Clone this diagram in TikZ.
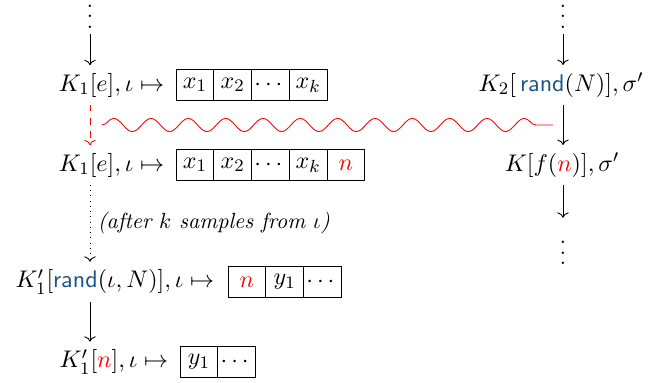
\documentclass[tikz,border=0pt]{standalone}
\usepackage{amsmath}
\usepackage{amssymb}
\usepackage{tikz}
\usetikzlibrary{arrows.meta,calc,positioning,decorations.pathmorphing}

\definecolor{randblue}{RGB}{25,85,135}
\newcommand{\rnd}{\textcolor{randblue}{\mathsf{rand}}}
\newcommand{\vdts}{\vbox{\baselineskip4.8pt\lineskiplimit0pt\hbox{.}\hbox{.}\hbox{.}}}

\tikzset{
    every node/.style={font=\fontsize{11.2}{13.5}\selectfont},
    cell/.style={draw, thin, minimum width=17.2pt, minimum height=14.5pt, inner sep=0pt, outer sep=0pt},
    gap/.style={inner sep=0.5pt},
}

\begin{document}
\begin{tikzpicture}[x=0.016cm, y=-0.016cm]

    % Frame
    \useasboundingbox (0,0) rectangle (652,383);

    % ---------- LEFT THREAD ----------

    % First state
    \node[gap] (dotsL) at (90,16.5) {\vdts};
    \node[anchor=east] (k1a) at (172,85) {$K_1[e], \iota \mapsto$};
    \node[cell, anchor=west] (a1) at (176,85) {$x_1$};
    \node[cell, right=0pt of a1] (a2) {$x_2$};
    \node[cell, right=0pt of a2] (a3) {$\cdots$};
    \node[cell, right=0pt of a3] (a4) {$x_k$};
    \draw[->] (dotsL.south) ++(0,-2pt) -- (dotsL.south |- k1a.north);

    % Sample appended
    \node[anchor=east] (k1b) at (172,165) {$K_1[e], \iota \mapsto$};
    \node[cell, anchor=west] (b1) at (176,165) {$x_1$};
    \node[cell, right=0pt of b1] (b2) {$x_2$};
    \node[cell, right=0pt of b2] (b3) {$\cdots$};
    \node[cell, right=0pt of b3] (b4) {$x_k$};
    \node[cell, right=0pt of b4, text=red] (b5) {$n$};
    \draw[->, red, dashed] (k1a.south -| dotsL) -- (k1b.north -| dotsL);

    % Later: the stored sample is read
    \node[anchor=east] (k1c) at (222,282) {$K_1'[\rnd(\iota, N)], \iota \mapsto$};
    \node[cell, anchor=west, text=red] (c1) at (228,282) {$n$};
    \node[cell, right=0pt of c1] (c2) {$y_1$};
    \node[cell, right=0pt of c2] (c3) {$\cdots$};
    \draw[->, dotted] (k1b.south -| dotsL) -- (k1c.north -| dotsL)
        node[midway, right, font=\normalsize] {\itshape (after $k$ samples from $\iota$)};

    % Final state
    \node[anchor=east] (k1d) at (176,362) {$K_1'[\textcolor{red}{n}], \iota \mapsto$};
    \node[cell, anchor=west] (d1) at (180,362) {$y_1$};
    \node[cell, right=0pt of d1] (d2) {$\cdots$};
    \draw[->] (k1c.south -| dotsL) -- (k1d.north -| dotsL);

    % ---------- RIGHT THREAD ----------

    \node[gap] (dotsR) at (563,16.5) {\vdts};
    \node (k2) at (561,85) {$K_2[\,\rnd(N)], \sigma'$};
    \node (k3) at (562,165) {$K[f(\textcolor{red}{n})], \sigma'$};
    \node[gap] (dotsR2) at (563,253) {\vdts};
    \draw[->] (dotsR.south) ++(0,-2pt) -- (dotsR.south |- k2.north);
    \draw[->] (k2.south -| dotsR) -- (k3.north -| dotsR);
    \draw[->, shorten >=10pt] (k3.south -| dotsR) -- (dotsR2.north);

    % Interaction between the threads
    \coordinate (wl) at (102,125);
    \coordinate (wr) at (553,125);
    \draw[red, decorate, decoration={snake, amplitude=3pt, segment length=17pt}] (wl) -- (wr);

\end{tikzpicture}
\end{document}
